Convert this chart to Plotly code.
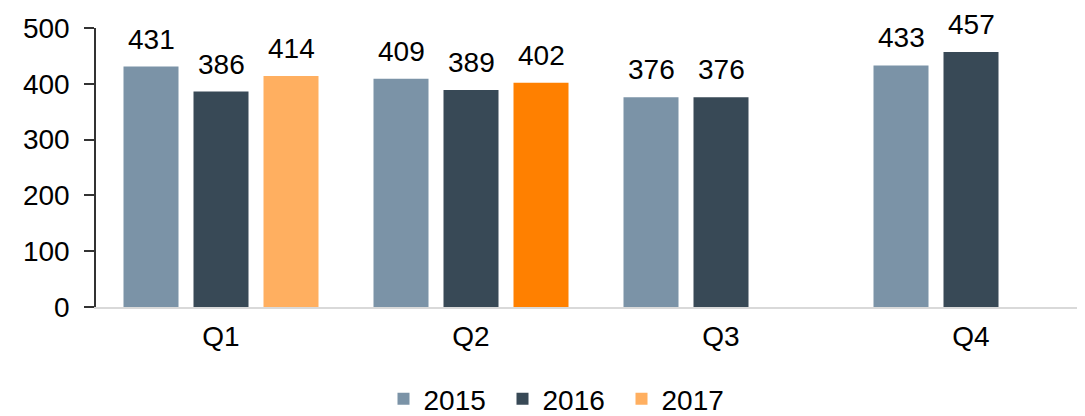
import plotly.graph_objects as go

quarters = ["Q1", "Q2", "Q3", "Q4"]
years = ["2015", "2016", "2017"]
v2015 = [431, 409, 376, 433]
v2016 = [386, 389, 376, 457]
v2017 = [414, 402, None, None]
y_ticks = [0, 100, 200, 300, 400, 500]

c2015 = "#7B93A7"
c2016 = "#384956"
c2017 = ["#FFAF60", "#FF8000", "#FFAF60", "#FFAF60"]

FONT = "Liberation Sans, Arial, sans-serif"
FS = 28
series = [v2015, v2016, v2017]
colors = [c2015, c2016, c2017]

# the page body adds an 8px offset; compensate
PAD = 8

fig = go.Figure()
for name, vals, col in zip(years, series, colors):
    fig.add_trace(go.Bar(x=quarters, y=vals, name=name,
                         marker=dict(color=col, line=dict(width=0))))

bargap = 0.16
n = len(years)
slot = (1 - bargap) / n
for i, vals in enumerate(series):
    off = (i - (n - 1) / 2) * slot
    for j, v in enumerate(vals):
        if v is None:
            continue
        fig.add_annotation(x=j + off, y=v, xref="x", yref="y", text=str(v),
                           showarrow=False, yanchor="bottom", yshift=10,
                           font=dict(family=FONT, size=FS, color="#000"))

fig.update_layout(
    width=1085 - PAD, height=416 - PAD,
    margin=dict(l=96 - PAD, r=0, t=28 - PAD, b=109, autoexpand=False),
    paper_bgcolor="white", plot_bgcolor="white",
    barmode="group", bargap=bargap, bargroupgap=15 / 70,
    font=dict(family=FONT, size=FS, color="#000"),
    showlegend=True,
    legend=dict(orientation="h", xref="paper", yref="paper",
                x=(562 - 96) / 989, xanchor="center",
                y=(307 - 399) / 279, yanchor="middle",
                entrywidth=74, entrywidthmode="pixels",
                font=dict(size=FS, color="#000"), itemclick=False,
                traceorder="normal"),
)
fig.update_xaxes(type="category", range=[-0.5, 3.456], showgrid=False,
                 showline=True, linecolor="#D9D9D9", linewidth=2,
                 ticks="outside", ticklen=3, tickcolor="rgba(0,0,0,0)",
                 tickfont=dict(size=FS, color="#000"), zeroline=False,
                 automargin=False)
fig.update_yaxes(range=[0, 500], tickvals=y_ticks, showgrid=False,
                 showline=True, linecolor="#333", linewidth=1.5,
                 ticks="outside", ticklen=10, tickcolor="#333", tickwidth=1.5,
                 ticklabelstandoff=9,
                 tickfont=dict(size=FS, color="#000"), zeroline=False,
                 automargin=False)

fig.write_html("out.html")
